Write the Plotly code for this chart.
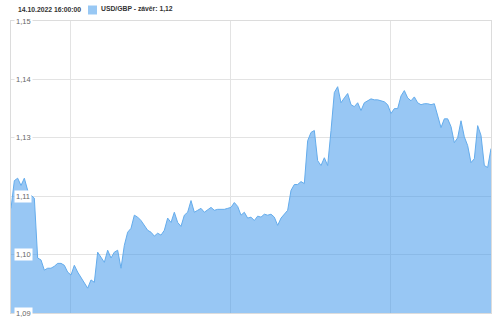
import plotly.graph_objects as go
import pandas as pd

# USD/GBP close values, 30-minute steps, 11.10.2022 16:00 -> 14.10.2022 16:00
start_time = "2022-10-11 16:00"
step = "30min"
values = [
    1.1115, 1.1172, 1.1177, 1.1162, 1.1177, 1.1152, 1.1142, 1.1136, 1.1013, 1.1009,
    1.0988, 1.0992, 1.0992, 1.0996, 1.1002, 1.1002, 1.0998, 1.0984, 1.0978, 1.0998,
    1.0984, 1.0972, 1.0961, 1.0951, 1.0968, 1.0963, 1.1025, 1.1013, 1.1004, 1.1029,
    1.1013, 1.1025, 1.1029, 1.0992, 1.1039, 1.1066, 1.1074, 1.1101, 1.1097, 1.1090,
    1.1080, 1.1070, 1.1066, 1.1058, 1.1064, 1.1060, 1.1070, 1.1095, 1.1086, 1.1107,
    1.1086, 1.1078, 1.1101, 1.1107, 1.1131, 1.1107, 1.1111, 1.1115, 1.1107, 1.1113,
    1.1117, 1.1111, 1.1113, 1.1113, 1.1113, 1.1115, 1.1117, 1.1127, 1.1119, 1.1101,
    1.1107, 1.1095, 1.1097, 1.1090, 1.1099, 1.1097, 1.1103, 1.1101, 1.1103, 1.1097,
    1.1080, 1.1095, 1.1103, 1.1111, 1.1152, 1.1164, 1.1164, 1.1170, 1.1166, 1.1254,
    1.1271, 1.1275, 1.1213, 1.1203, 1.1219, 1.1203, 1.1275, 1.1353, 1.1365, 1.1332,
    1.1342, 1.1351, 1.1328, 1.1324, 1.1332, 1.1316, 1.1332, 1.1336, 1.1340, 1.1338,
    1.1338, 1.1336, 1.1334, 1.1328, 1.1310, 1.1320, 1.1320, 1.1346, 1.1357, 1.1342,
    1.1336, 1.1344, 1.1332, 1.1328, 1.1330, 1.1330, 1.1328, 1.1330, 1.1305, 1.1281,
    1.1299, 1.1299, 1.1283, 1.1250, 1.1260, 1.1295, 1.1262, 1.1244, 1.1209, 1.1217,
    1.1285, 1.1265, 1.1203, 1.1199, 1.1238,
]
times = pd.date_range(start=start_time, periods=len(values), freq=step)

y_ticks = [1.09, 1.102, 1.114, 1.126, 1.138, 1.15]
y_tick_labels = ["1,09", "1,10", "1,11", "1,13", "1,14", "1,15"]
x_grid = ["2022-10-12 00:51", "2022-10-13 00:51", "2022-10-14 00:51"]

legend_time = "14.10.2022 16:00:00"
legend_series = "USD/GBP - závěr: 1,12"

FONT = "Liberation Sans, Arial"

fig = go.Figure()
fig.add_trace(go.Scatter(
    x=times, y=values, mode="lines",
    line=dict(color="rgb(100,172,236)", width=1),
    fill="tozeroy", fillcolor="rgba(60,150,235,0.53)",
    hoverinfo="skip", showlegend=False,
))

pl, pr, pt, pb = 11, 9, 21, 8
W, H = 500, 321
pw, ph = W - pl - pr, H - pt - pb

annotations = []
for v, t in zip(y_ticks, y_tick_labels):
    annotations.append(dict(
        x=0, xref="paper", y=v, yref="y", text=t, showarrow=False,
        xanchor="left", yanchor="middle", xshift=3,
        font=dict(family=FONT, size=7.5, color="#666"),
        bgcolor="white", borderpad=1,
    ))
annotations.append(dict(
    x=(16 - pl) / pw, xref="paper", y=1 + (pt - 9) / ph, yref="paper",
    text=f"<b>{legend_time}</b>",
    showarrow=False, xanchor="left", yanchor="middle",
    font=dict(family=FONT, size=6.8, color="#333"),
))
annotations.append(dict(
    x=(99 - pl) / pw, xref="paper", y=1 + (pt - 9) / ph, yref="paper",
    text=f"<b>{legend_series}</b>",
    showarrow=False, xanchor="left", yanchor="middle",
    font=dict(family=FONT, size=6.8, color="#333"),
))

fig.update_layout(
    width=W, height=H,
    margin=dict(l=pl, r=pr, t=pt, b=pb),
    paper_bgcolor="white", plot_bgcolor="white",
    annotations=annotations,
    shapes=[dict(
        type="rect", xref="paper", yref="paper",
        x0=(88 - pl) / pw, x1=(97 - pl) / pw,
        y0=1 + (pt - 14.5) / ph, y1=1 + (pt - 5.5) / ph,
        fillcolor="rgb(152,200,244)", line=dict(width=0),
    )],
    xaxis=dict(
        range=[times[0], times[-1]], showticklabels=False, ticks="",
        tickvals=x_grid, showgrid=True, gridcolor="#e3e3e3", gridwidth=1,
        showline=True, mirror=True, linecolor="#dcdcdc", zeroline=False,
    ),
    yaxis=dict(
        range=[1.09, 1.15], tickvals=y_ticks, showticklabels=False, ticks="",
        showgrid=True, gridcolor="#e3e3e3", gridwidth=1,
        showline=True, mirror=True, linecolor="#dcdcdc", zeroline=False,
    ),
)

fig.write_html("out.html")
